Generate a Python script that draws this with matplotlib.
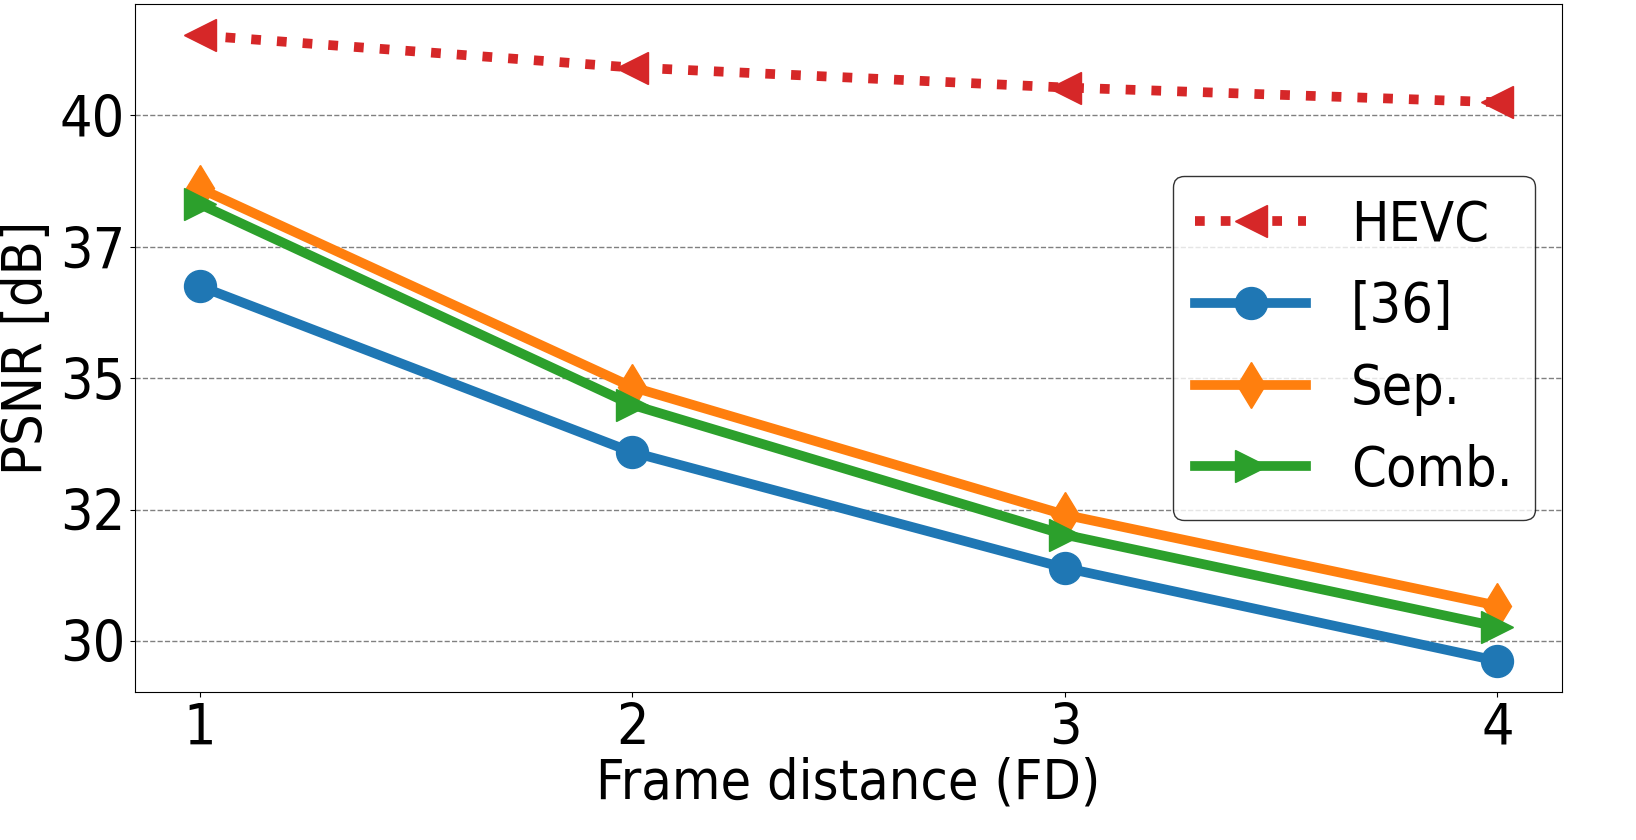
import matplotlib
matplotlib.use("Agg")
import matplotlib.pyplot as plt
from matplotlib.ticker import FormatStrFormatter

plt.rcParams['font.family'] = 'DejaVu Sans'
plt.rcParams['font.stretch'] = 'condensed'

# dados
fd = [1, 2, 3, 4]
psnr_hevc = [41.52, 40.91, 40.53, 40.25]
psnr_36 = [36.75, 33.59, 31.39, 29.62]
psnr_sep = [38.61, 34.83, 32.40, 30.67]
psnr_comb = [38.31, 34.49, 32.02, 30.27]
yticks = [30, 32.5, 35, 37.5, 40]

fig, ax = plt.subplots(figsize=(16.36, 8.4), dpi=100)
fig.subplots_adjust(left=0.0825, right=0.955, top=0.995, bottom=0.176)

lw = 7
ms = 23
ax.plot(fd, psnr_hevc, ':', color='tab:red', marker='<', lw=lw, ms=ms, label='HEVC')
ax.plot(fd, psnr_36, '-', color='tab:blue', marker='o', lw=lw, ms=ms, label='[36]')
ax.plot(fd, psnr_sep, '-', color='tab:orange', marker='d', lw=lw, ms=ms, label='Sep.')
ax.plot(fd, psnr_comb, '-', color='tab:green', marker='>', lw=lw, ms=ms, label='Comb.')

ax.set_xticks(fd)
ax.set_yticks(yticks)
ax.yaxis.set_major_formatter(FormatStrFormatter('%d'))
ax.tick_params(labelsize=41)
ax.yaxis.grid(True, linestyle='--', color='grey', linewidth=1)
ax.set_axisbelow(True)

ax.set_xlabel('Frame distance (FD)', fontsize=40, labelpad=0)
ax.set_ylabel('PSNR [dB]', fontsize=40)

leg = ax.legend(loc='center right', fontsize=40)
leg.get_frame().set_edgecolor('black')

fig.savefig('out.png', dpi=100)
